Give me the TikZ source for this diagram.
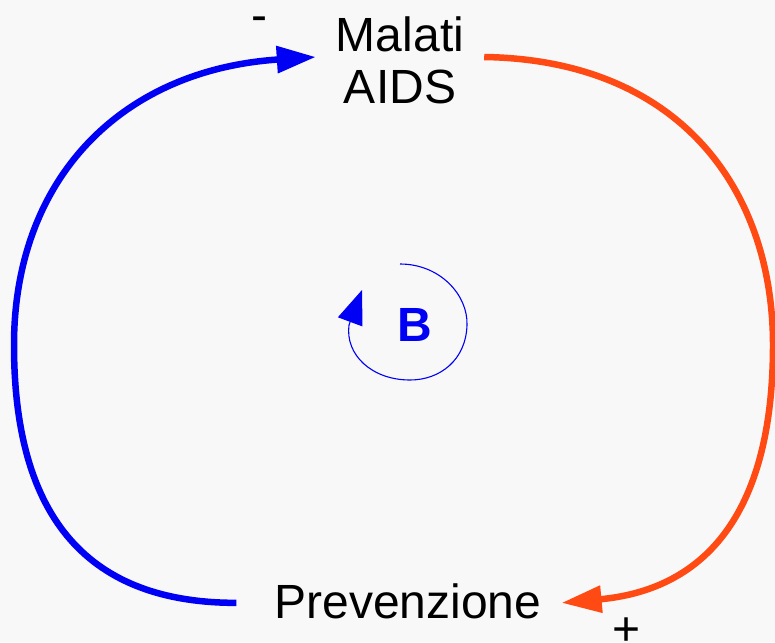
\documentclass[tikz,border=0pt]{standalone}
\usepackage{fontspec}
\setmainfont{Liberation Sans}
\usetikzlibrary{arrows.meta,calc}
\definecolor{loopblue}{RGB}{0,0,245}
\definecolor{looporange}{RGB}{255,74,20}
\definecolor{bgcol}{RGB}{248,248,248}
\tikzset{
  lbl/.style={font=\fontsize{48}{52}\selectfont, text=black, inner sep=0pt},
  var/.style={lbl, align=center, inner xsep=20pt, inner ysep=0pt},
  bigblue/.style={draw=loopblue, line width=6.5pt, -{Triangle[length=39pt,width=26pt]}},
  bigorange/.style={draw=looporange, line width=6.5pt, -{Triangle[length=40pt,width=26pt]}},
  smallloop/.style={draw=loopblue, line width=1.1pt, -{Triangle[length=34pt,width=26pt]}}
}
\begin{document}
\begin{tikzpicture}[x=1pt,y=-1pt]
\fill[bgcol] (0,0) rectangle (775,642);
\useasboundingbox (0,0) rectangle (775,642);
\node[var] (malati) at (400,60) {Malati\\AIDS};
\node[var, anchor=base] (prev) at (408,618) {Prevenzione};
\node[lbl] (minus) at (259,24) {-};
\node[lbl] (plus) at (627,632) {+};
\node[lbl, font=\fontsize{48}{52}\selectfont\bfseries, text=loopblue] (B) at (415,325) {B};
% blue link: Prevenzione -> Malati AIDS
\draw[bigblue] ([xshift=-18pt,yshift=-2pt]prev.west) .. controls (90,603) and (14,520) .. (14,345)
  .. controls (14,180) and (120,70) .. ([yshift=3pt]malati.west);
% orange link: Malati AIDS -> Prevenzione
\draw[bigorange] ([yshift=3pt]malati.east) .. controls (680,60) and (773,190) .. (773,345)
  .. controls (773,520) and (700,590) .. ([yshift=-2pt]prev.east);
% small loop arrow around B
\draw[smallloop] ($(B)+(-15,-61)$) .. controls (440,264) and (468,295) .. (467,325)
  .. controls (466,360) and (440,380) .. (410,380)
  .. controls (372,380) and (345,355) .. (349,325) -- (362,290);
\end{tikzpicture}
\end{document}
